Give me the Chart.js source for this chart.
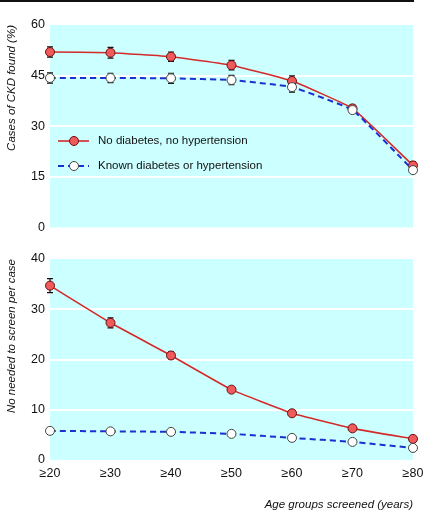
<!DOCTYPE html>
<html>
<head>
<meta charset="utf-8">
<script src="https://cdn.jsdelivr.net/npm/chart.js@4/dist/chart.umd.min.js"></script>
<style>
  html, body { margin: 0; padding: 0; background: #fff; }
  #wrap { position: relative; width: 426px; height: 512px; }
  #rule { position: absolute; left: 0; top: 0; width: 414px; height: 2px; background: #111; }
  #top { position: absolute; left: 0; top: 2px; }
  #bottom { position: absolute; left: 0; top: 240px; }
</style>
</head>
<body>
<div id="wrap">
  <div id="rule"></div>
  <canvas id="top" width="426" height="238"></canvas>
  <canvas id="bottom" width="426" height="272"></canvas>
</div>
<script>
// age groups screened
var ages = ['≥20', '≥30', '≥40', '≥50', '≥60', '≥70', '≥80'];

// cases of CKD found (%)
var casesNoDm = [52.0, 51.8, 50.6, 48.1, 43.4, 35.3, 18.4];
var casesNoDmErr = [1.5, 1.6, 1.4, 1.4, 1.5, 1.0, 1.1];
var casesDm = [44.3, 44.3, 44.2, 43.7, 41.6, 34.8, 17.0];
var casesDmErr = [1.5, 1.4, 1.5, 1.4, 1.5, 0.9, 1.0];

// number needed to screen per case
var nntNoDm = [34.7, 27.3, 20.8, 14.0, 9.3, 6.3, 4.2];
var nntNoDmErr = [1.4, 1.0, 0.7, 0.4, 0.3, 0.2, 0.2];
var nntDm = [5.8, 5.7, 5.6, 5.2, 4.4, 3.6, 2.4];
var nntDmErr = [0.1, 0.1, 0.1, 0.1, 0.1, 0.1, 0.1];

var seriesNames = ['No diabetes, no hypertension', 'Known diabetes or hypertension'];

var FONT = "'Liberation Sans', Arial, sans-serif";
var RED = '#d42a2a';
var RED_FILL = '#f05a5a';
var BLUE = '#1c2fd0';

// cyan plot background
var plotBg = {
  id: 'plotBg',
  beforeDraw: function(chart) {
    var a = chart.chartArea, ctx = chart.ctx;
    ctx.save();
    ctx.fillStyle = '#ccffff';
    ctx.fillRect(a.left, a.top, a.right - a.left, a.bottom - a.top);
    ctx.restore();
  }
};

// error bars drawn from dataset.err through the scales
var errBars = {
  id: 'errBars',
  beforeDatasetsDraw: function(chart) {
    var ctx = chart.ctx, y = chart.scales.y, x = chart.scales.x;
    ctx.save();
    ctx.strokeStyle = '#111';
    ctx.lineWidth = 1.2;
    chart.data.datasets.forEach(function(ds) {
      if (!ds.err) return;
      ds.data.forEach(function(v, i) {
        var px = x.getPixelForValue(i);
        var y1 = y.getPixelForValue(v + ds.err[i]);
        var y2 = y.getPixelForValue(v - ds.err[i]);
        ctx.beginPath();
        ctx.moveTo(px, y1); ctx.lineTo(px, y2);
        ctx.moveTo(px - 3, y1); ctx.lineTo(px + 3, y1);
        ctx.moveTo(px - 3, y2); ctx.lineTo(px + 3, y2);
        ctx.stroke();
      });
    });
    ctx.restore();
  }
};

// legend inside the top plot, in series order
var innerLegend = {
  id: 'innerLegend',
  afterDraw: function(chart) {
    if (!chart.options.plugins.innerLegend.show) return;
    var ctx = chart.ctx;
    var rows = [139, 164];
    ctx.save();
    seriesNames.forEach(function(name, i) {
      var ds = chart.data.datasets.find(function(d) { return d.label === name; });
      var yy = rows[i];
      ctx.strokeStyle = ds.borderColor;
      ctx.lineWidth = ds.borderWidth;
      ctx.setLineDash(ds.borderDash || []);
      ctx.beginPath();
      ctx.moveTo(58, yy); ctx.lineTo(89, yy);
      ctx.stroke();
      ctx.setLineDash([]);
      ctx.beginPath();
      ctx.arc(74, yy, 4.5, 0, Math.PI * 2);
      ctx.fillStyle = ds.pointBackgroundColor;
      ctx.fill();
      ctx.lineWidth = 1;
      ctx.strokeStyle = ds.pointBorderColor;
      ctx.stroke();
      ctx.fillStyle = '#111';
      ctx.font = '11.5px ' + FONT;
      ctx.textBaseline = 'middle';
      ctx.fillText(ds.label, 98, yy);
    });
    ctx.restore();
  }
};

function makeDatasets(a, aErr, b, bErr) {
  // blue first so the red series sits on top
  return [
    {
      label: seriesNames[1],
      data: b,
      err: bErr,
      borderColor: BLUE,
      borderWidth: 2,
      borderDash: [6, 4],
      pointBackgroundColor: '#ffffff',
      pointBorderColor: '#444',
      pointBorderWidth: 1,
      pointRadius: 4.5,
      tension: 0.1
    },
    {
      label: seriesNames[0],
      data: a,
      err: aErr,
      borderColor: RED,
      borderWidth: 1.6,
      pointBackgroundColor: RED_FILL,
      pointBorderColor: '#6a1010',
      pointBorderWidth: 1,
      pointRadius: 4.5,
      tension: 0.1
    }
  ];
}

function gridColor(max) {
  return function(c) {
    var v = c.tick.value;
    return (v > 0 && v < max) ? '#ffffff' : 'rgba(0,0,0,0)';
  };
}

function makeOptions(opt) {
  return {
    responsive: false,
    animation: false,
    layout: { padding: { top: opt.padTop, right: 13, bottom: opt.padBottom, left: 0 } },
    plugins: {
      legend: { display: false },
      tooltip: { enabled: false },
      innerLegend: { show: opt.legend }
    },
    scales: {
      x: {
        display: opt.showX,
        offset: false,
        grid: { display: false, drawTicks: false },
        border: { display: false },
        ticks: { color: '#111', font: { family: FONT, size: 12.5 }, padding: 6, maxRotation: 0 },
        title: {
          display: opt.showX,
          text: 'Age groups screened (years)',
          align: 'end',
          color: '#111',
          font: { family: FONT, size: 11.5, style: 'italic' },
          padding: { top: 0, bottom: 0 }
        },
        afterFit: function(s) {
          if (opt.showX) s.height = 52;
          s.paddingRight = 0;
          s.paddingLeft = 0;
        }
      },
      y: {
        min: 0,
        max: opt.max,
        ticks: { stepSize: opt.step, color: '#111', font: { family: FONT, size: 12.5 }, padding: 5 },
        grid: { color: gridColor(opt.max), lineWidth: 2, drawTicks: false },
        border: { display: false },
        title: {
          display: true,
          text: opt.title,
          align: 'end',
          color: '#111',
          font: { family: FONT, size: 11.5, style: 'italic' },
          padding: { top: 5, bottom: 0 }
        },
        afterFit: function(s) { s.width = 50; }
      }
    }
  };
}

new Chart(document.getElementById('top'), {
  type: 'line',
  data: { labels: ages, datasets: makeDatasets(casesNoDm, casesNoDmErr, casesDm, casesDmErr) },
  options: makeOptions({ max: 60, step: 15, title: 'Cases of CKD found (%)', padTop: 23, padBottom: 11, showX: false, legend: true }),
  plugins: [plotBg, errBars, innerLegend]
});

new Chart(document.getElementById('bottom'), {
  type: 'line',
  data: { labels: ages, datasets: makeDatasets(nntNoDm, nntNoDmErr, nntDm, nntDmErr) },
  options: makeOptions({ max: 40, step: 10, title: 'No needed to screen per case', padTop: 19, padBottom: 0, showX: true, legend: false }),
  plugins: [plotBg, errBars]
});
</script>
</body>
</html>
